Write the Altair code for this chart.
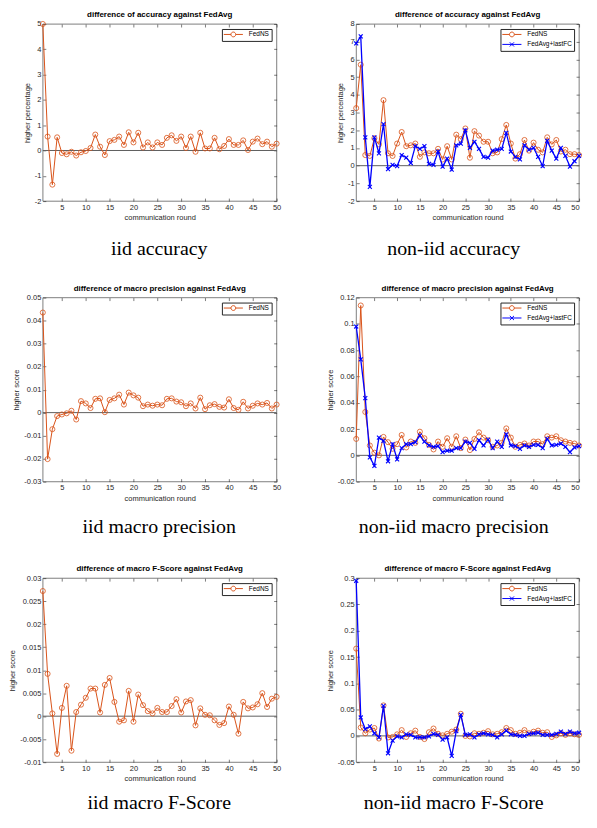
import altair as alt
import pandas as pd

rounds = list(range(1, 51))

iid_acc_fedns = [5.0, 0.55, -1.35, 0.52, -0.1, -0.15, -0.05, -0.2, -0.07, -0.02,
                 0.1, 0.63, 0.15, -0.18, 0.37, 0.42, 0.55, 0.22, 0.72, 0.32,
                 0.7, 0.12, 0.32, 0.12, 0.32, 0.22, 0.5, 0.6, 0.38, 0.55,
                 0.1, 0.55, -0.05, 0.7, 0.08, 0.08, 0.5, 0.05, 0.18, 0.45,
                 0.22, 0.22, 0.4, 0.02, 0.35, 0.47, 0.25, 0.35, 0.15, 0.27]

noniid_acc_fedns = [3.25, 5.7, 0.6, 0.55, 1.55, 1.2, 3.7, 0.7, 0.55, 1.25,
                    1.9, 1.1, 1.15, 1.25, 0.5, 0.75, 0.7, 0.7, 0.95, 0.35,
                    1.1, 0.35, 1.75, 1.5, 2.1, 0.45, 1.95, 1.7, 1.35, 1.35,
                    0.7, 0.75, 1.5, 2.3, 1.25, 0.4, 0.65, 1.45, 0.85, 1.3,
                    0.9, 0.75, 1.6, 1.2, 1.45, 0.8, 0.9, 0.65, 0.65, 0.6]
noniid_acc_lastfc = [6.9, 7.3, 1.6, -1.2, 1.6, 0.7, 2.35, -0.2, 0.05, -0.02,
                     0.6, 0.45, 0.15, 1.1, 0.95, 1.1, 0.1, 0.05, 0.8, -0.05,
                     0.4, -0.22, 1.15, 1.25, 2.0, 1.0, 1.35, 0.95, 0.5, 0.45,
                     0.85, 0.9, 0.95, 1.85, 0.8, 0.5, 0.35, 1.15, 0.9, 1.0,
                     0.5, -0.02, 1.4, 0.85, 0.4, 1.0, 0.55, -0.05, 0.25, 0.55]

iid_prec_fedns = [0.0435, -0.0202, -0.0072, -0.0015, -0.0008, -0.0003, 0.0008, -0.003, 0.005, 0.004,
                  0.002, 0.006, 0.0062, 0.0002, 0.0055, 0.0062, 0.0078, 0.0035, 0.0087, 0.0075,
                  0.0065, 0.0028, 0.0035, 0.003, 0.0035, 0.0032, 0.006, 0.0062, 0.0048, 0.0045,
                  0.0028, 0.004, 0.0018, 0.0065, 0.0015, 0.0032, 0.0037, 0.0025, 0.0022, 0.0058,
                  0.002, 0.0012, 0.0047, 0.0018, 0.003, 0.004, 0.0035, 0.0042, 0.0018, 0.0035]

noniid_prec_fedns = [0.0125, 0.114, 0.033, 0.0075, 0.002, 0.0, 0.014, 0.01, 0.005, 0.0085,
                     0.0155, 0.006, 0.0105, 0.0095, 0.018, 0.013, 0.008, 0.0045, 0.0105, 0.0065,
                     0.013, 0.0065, 0.0145, 0.0055, 0.012, 0.004, 0.0125, 0.0175, 0.0135, 0.0115,
                     0.0065, 0.0075, 0.0095, 0.0205, 0.0135, 0.0065, 0.008, 0.009, 0.0075, 0.0105,
                     0.0105, 0.0085, 0.0145, 0.0135, 0.0145, 0.0115, 0.0105, 0.0095, 0.009, 0.0075]
noniid_prec_lastfc = [0.098, 0.073, 0.0435, -0.0015, -0.008, 0.0135, 0.011, -0.0045, 0.0085, -0.003,
                      0.0055, 0.0085, 0.0085, 0.01, 0.015, 0.0105, 0.0075, 0.0065, 0.007, 0.0025,
                      0.0035, 0.0035, 0.0055, 0.0055, 0.0105, 0.0095, 0.005, 0.0115, 0.0075, 0.012,
                      0.0055, 0.0105, 0.0065, 0.016, 0.0075, 0.007, 0.005, 0.0075, 0.0065, 0.008,
                      0.008, 0.0055, 0.0125, 0.0075, 0.008, 0.009, 0.0065, 0.0025, 0.006, 0.007]

iid_f_fedns = [0.0272, 0.0092, 0.0006, -0.0082, 0.0018, 0.0066, -0.0075, 0.0009, 0.0025, 0.004,
               0.006, 0.006, 0.0008, 0.0068, 0.0083, 0.0031, -0.0012, -0.0009, 0.0055, -0.0012,
               0.0047, 0.0024, 0.0011, 0.0006, 0.0018, 0.0009, 0.0009, 0.0022, 0.0037, 0.0008,
               0.0032, 0.0035, -0.002, 0.0017, 0.0003, 0.0002, -0.0009, -0.0019, -0.0015, 0.0021,
               0.0003, -0.0038, 0.0031, 0.0017, 0.0019, 0.0026, 0.005, 0.002, 0.0038, 0.0042]

noniid_f_fedns = [0.166, 0.016, 0.005, 0.012, 0.015, -0.005, 0.058, -0.003, -0.002, 0.003,
                  0.011, -0.002, 0.005, 0.01, -0.002, -0.006, 0.007, 0.014, 0.004, 0.001,
                  0.004, 0.008, 0.012, 0.042, 0.0, -0.001, 0.005, 0.004, 0.006, 0.009,
                  0.003, 0.004, 0.007, 0.015, 0.011, 0.004, 0.006, 0.011, 0.005, 0.008,
                  0.01, 0.006, 0.007, -0.002, 0.001, 0.005, 0.002, 0.005, 0.003, 0.002]
noniid_f_lastfc = [0.295, 0.035, 0.013, 0.018, 0.005, -0.003, 0.057, -0.033, -0.009, -0.001,
                   -0.003, 0.003, 0.002, -0.003, -0.003, -0.003, -0.001, 0.004, 0.002, -0.007,
                   -0.003, -0.038, 0.009, 0.04, 0.002, 0.003, -0.003, 0.003, 0.005, 0.003,
                   0.002, -0.003, 0.003, 0.01, 0.003, 0.002, 0.0, 0.0, 0.004, 0.005,
                   0.006, 0.002, 0.002, 0.002, 0.004, 0.008, 0.004, 0.008, 0.005, 0.006]

x_ticks = [5, 10, 15, 20, 25, 30, 35, 40, 45, 50]
acc_iid_ticks = [-2, -1, 0, 1, 2, 3, 4, 5]
acc_noniid_ticks = [-2, -1, 0, 1, 2, 3, 4, 5, 6, 7, 8]
prec_iid_ticks = [-0.03, -0.02, -0.01, 0, 0.01, 0.02, 0.03, 0.04, 0.05]
prec_noniid_ticks = [-0.02, 0, 0.02, 0.04, 0.06, 0.08, 0.1, 0.12]
f_iid_ticks = [-0.01, -0.005, 0, 0.005, 0.01, 0.015, 0.02, 0.025, 0.03]
f_noniid_ticks = [-0.05, 0, 0.05, 0.1, 0.15, 0.2, 0.25, 0.3]

ORANGE = "#D95319"
BLUE = "#0000FF"
DARK = "#262626"
ZERO = "#5f5f5f"
FONT = "Liberation Sans"
SERIF = "Liberation Serif"

XPATH = "M-1,-1L1,1M-1,1L1,-1"
LEG_PATHS = [
    "M-3.2,0L-0.8,0M0.8,0L3.2,0M0.8,0A0.8,0.8,0,1,1,-0.8,0A0.8,0.8,0,1,1,0.8,0",
    "M-3.2,0L3.2,0M-0.7,-0.7L0.7,0.7M-0.7,0.7L0.7,-0.7",
]

LABEL_EXPR = "(datum.value < 0 ? '-' : '') + format(abs(datum.value), '~f')"


def panel(title, ytitle, caption, ydomain, yticks, series, width, height, cap_x, cap_y, flush):
    names = [n for n, _ in series]
    rows = []
    for n, vals in series:
        for r, v in zip(rounds, vals):
            rows.append({"round": r, "value": v, "series": n})
    df = pd.DataFrame(rows)

    xs = alt.Scale(domain=[1, 50], nice=False, zero=False)
    ys = alt.Scale(domain=ydomain, nice=False, zero=False)

    common = dict(domain=False, grid=False, ticks=True, tickSize=3, tickWidth=0.6,
                  tickColor=DARK, offset=-3)
    x_axis = alt.Axis(orient="bottom", values=x_ticks, title="communication round",
                      labelFontSize=7.5, labelFont=FONT, labelColor=DARK, labelPadding=2,
                      labelFlush=flush, labelOverlap=False,
                      titleFontSize=7.5, titleFont=FONT, titleFontWeight="normal",
                      titleColor=DARK, titlePadding=3, **common)
    y_axis = alt.Axis(orient="left", values=yticks, title=ytitle, labelExpr=LABEL_EXPR,
                      labelFontSize=7.5, labelFont=FONT, labelColor=DARK, labelPadding=2,
                      labelOverlap=False,
                      titleFontSize=7.5, titleFont=FONT, titleFontWeight="normal",
                      titleColor=DARK, titlePadding=3, **common)
    top_axis = alt.Axis(orient="top", values=x_ticks, labels=False, title=None, **common)
    right_axis = alt.Axis(orient="right", values=yticks, labels=False, title=None, **common)

    zero = alt.Chart(alt.Data(values=[{"z": 0}])).mark_rule(
        color=ZERO, strokeWidth=1).encode(y=alt.Y("z:Q", scale=ys, axis=None))

    layers = [zero]
    styles = {
        "FedNS": dict(color=ORANGE, lw=1.0, shape="circle", size=26, sw=0.8),
        "FedAvg+lastFC": dict(color=BLUE, lw=1.3, shape=XPATH, size=16, sw=1.1),
    }
    first = True
    for n in names:
        st = styles[n]
        sub = df[df["series"] == n]
        xenc = alt.X("round:Q", scale=xs, axis=x_axis if first else None)
        yenc = alt.Y("value:Q", scale=ys, axis=y_axis if first else None)
        first = False
        line = alt.Chart(sub).mark_line(color=st["color"], strokeWidth=st["lw"]).encode(
            x=xenc, y=yenc)
        pts = alt.Chart(sub).mark_point(color=st["color"], shape=st["shape"], filled=False,
                                        size=st["size"], strokeWidth=st["sw"], opacity=1).encode(
            x=alt.X("round:Q", scale=xs, axis=None),
            y=alt.Y("value:Q", scale=ys, axis=None))
        layers += [line, pts]

    leg = alt.Legend(title=None, orient="top-right", offset=5, padding=2,
                     strokeColor=DARK, fillColor="white",
                     labelFontSize=6.5, labelFont=FONT, labelColor="black",
                     symbolSize=36, symbolStrokeWidth=1, symbolOpacity=1,
                     symbolOffset=6, labelOffset=12, rowPadding=1)
    legend_layer = alt.Chart(df).mark_point(filled=False, opacity=0).encode(
        x=alt.X("round:Q", scale=xs, axis=None),
        y=alt.Y("value:Q", scale=ys, axis=None),
        color=alt.Color("series:N", scale=alt.Scale(domain=names, range=[ORANGE, BLUE][:len(names)]),
                        legend=leg),
        shape=alt.Shape("series:N", scale=alt.Scale(domain=names, range=LEG_PATHS[:len(names)]),
                        legend=leg),
    )
    frame_ticks = alt.Chart(df).mark_point(opacity=0).encode(
        x=alt.X("round:Q", scale=xs, axis=top_axis),
        y=alt.Y("value:Q", scale=ys, axis=right_axis))
    cap = alt.Chart(alt.Data(values=[{"t": caption}])).mark_text(
        font=SERIF, fontSize=20, align="center", baseline="middle", color="black").encode(
        text="t:N", x=alt.value(cap_x), y=alt.value(cap_y))

    layers += [legend_layer, frame_ticks, cap]
    return alt.layer(*layers).properties(
        width=width, height=height,
        title=alt.TitleParams(title, fontSize=8, font=FONT, fontWeight="bold", color="black",
                              offset=1, anchor="middle", frame="group"))


WL, WR = 235, 224
H1, H = 178, 185
p1 = panel("difference of accuracy against FedAvg", "higher percentage", "iid accuracy",
           [-2, 5], acc_iid_ticks, [("FedNS", iid_acc_fedns)], WL, H1, 117, H1 + 48, False)
p2 = panel("difference of accuracy against FedAvg", "higher percentage", "non-iid accuracy",
           [-2, 8], acc_noniid_ticks,
           [("FedNS", noniid_acc_fedns), ("FedAvg+lastFC", noniid_acc_lastfc)], WR, H1, 98, H1 + 48, True)
p3 = panel("difference of macro precision against FedAvg", "higher score", "iid macro precision",
           [-0.03, 0.05], prec_iid_ticks, [("FedNS", iid_prec_fedns)], WL, H, 117, H + 46, False)
p4 = panel("difference of macro precision against FedAvg", "higher score", "non-iid macro precision",
           [-0.02, 0.12], prec_noniid_ticks,
           [("FedNS", noniid_prec_fedns), ("FedAvg+lastFC", noniid_prec_lastfc)], WR, H, 98, H + 46, True)
p5 = panel("difference of macro F-Score against FedAvg", "higher score", "iid macro F-Score",
           [-0.01, 0.03], f_iid_ticks, [("FedNS", iid_f_fedns)], WL, H, 117, H + 41, False)
p6 = panel("difference of macro F-Score against FedAvg", "higher score", "non-iid macro F-Score",
           [-0.05, 0.3], f_noniid_ticks,
           [("FedNS", noniid_f_fedns), ("FedAvg+lastFC", noniid_f_lastfc)], WR, H, 98, H + 41, True)

chart = alt.concat(p1, p2, p3, p4, p5, p6, columns=2, align="each",
                   spacing={"row": 97, "column": 80}, bounds="flush").resolve_scale(
    color="independent", shape="independent").properties(
    padding=0).configure_view(stroke=DARK, strokeWidth=0.6)

chart.save("out.html", embed_options={"renderer": "svg", "actions": False})
